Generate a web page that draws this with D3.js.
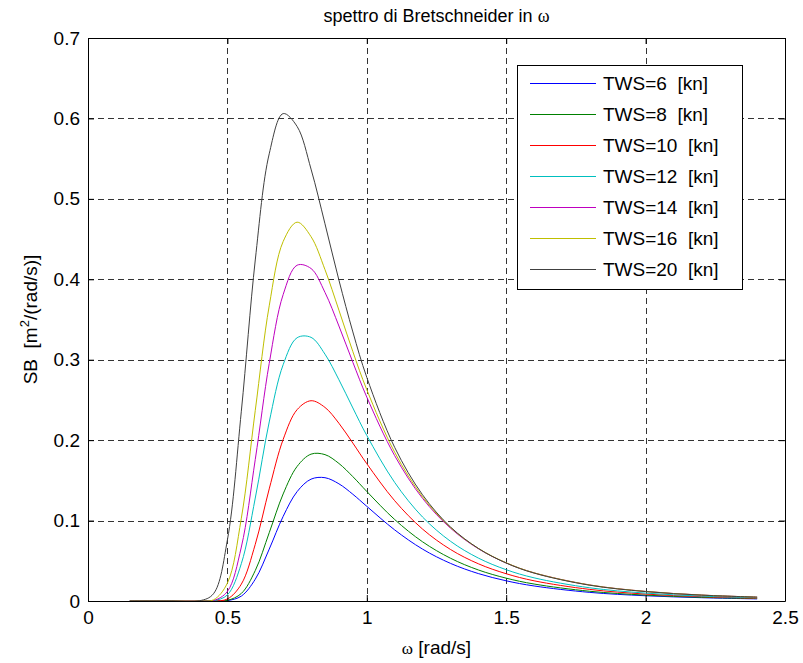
<!DOCTYPE html>
<html>
<head>
<meta charset="utf-8">
<script src="https://cdn.jsdelivr.net/npm/d3@7"></script>
<style>
  body { margin: 0; background: #fff; }
  text { font-family: Arial, "Liberation Sans", Helvetica, sans-serif; fill: #000; }
</style>
</head>
<body>
<script>
// frequency grid, rad/s
const omega = [0.15, 0.3, 0.4, 0.45, 0.5, 0.55, 0.6, 0.65, 0.7, 0.75, 0.8, 0.85, 0.9, 0.95, 1.0, 1.1, 1.2, 1.3, 1.4, 1.5, 1.6, 1.8, 2.0, 2.2, 2.4];

// spectrum values, one array per wind speed
const sb6  = [0, 0, 0, 0, 0.0005, 0.0061, 0.0271, 0.0645, 0.1052, 0.136, 0.1515, 0.1533, 0.1457, 0.1327, 0.1177, 0.0884, 0.0645, 0.0468, 0.0341, 0.0251, 0.0187, 0.0107, 0.0065, 0.0041, 0.0026];
const sb8  = [0, 0, 0, 0, 0.0008, 0.0094, 0.0379, 0.0849, 0.1331, 0.1673, 0.1826, 0.182, 0.171, 0.1546, 0.1362, 0.1013, 0.0736, 0.0532, 0.0386, 0.0284, 0.0211, 0.0121, 0.0073, 0.0046, 0.003];
const sb10 = [0, 0, 0, 0, 0.0025, 0.021, 0.0705, 0.1394, 0.2009, 0.2379, 0.249, 0.2407, 0.221, 0.1963, 0.1707, 0.1247, 0.0894, 0.0641, 0.0463, 0.0339, 0.0251, 0.0144, 0.0086, 0.0054, 0.0035];
const sb12 = [0, 0, 0, 0.0003, 0.0076, 0.0465, 0.128, 0.2226, 0.2938, 0.3273, 0.3278, 0.3069, 0.2751, 0.240, 0.2058, 0.1474, 0.1044, 0.0743, 0.0534, 0.0389, 0.0288, 0.0164, 0.0098, 0.0061, 0.004];
const sb14 = [0, 0, 0, 0.0005, 0.0119, 0.0671, 0.176, 0.2954, 0.381, 0.4175, 0.4134, 0.3837, 0.3419, 0.2968, 0.2535, 0.1807, 0.1276, 0.0906, 0.065, 0.0473, 0.035, 0.0199, 0.0119, 0.0074, 0.0048];
const sb16 = [0, 0, 0, 0.0014, 0.0223, 0.103, 0.237, 0.367, 0.447, 0.471, 0.453, 0.412, 0.3616, 0.310, 0.2627, 0.1849, 0.1296, 0.0915, 0.0654, 0.0475, 0.035, 0.0199, 0.0119, 0.0074, 0.0048];
const sb20 = [0, 0, 0.0002, 0.009, 0.0759, 0.236, 0.424, 0.556, 0.606, 0.590, 0.537, 0.469, 0.399, 0.3345, 0.278, 0.191, 0.132, 0.0921, 0.0654, 0.0472, 0.0347, 0.0196, 0.0117, 0.0073, 0.0048];

const seriesValues = [sb6, sb8, sb10, sb12, sb14, sb16, sb20];
const legendLabels = ["TWS=6\u00a0 [kn]", "TWS=8\u00a0 [kn]", "TWS=10\u00a0 [kn]", "TWS=12\u00a0 [kn]", "TWS=14\u00a0 [kn]", "TWS=16\u00a0 [kn]", "TWS=20\u00a0 [kn]"];
const colors = ["#0000ff", "#008000", "#ff0000", "#00bfbf", "#bf00bf", "#bfbf00", "#404040"]; // matlab order

const xTicks = [0, 0.5, 1, 1.5, 2, 2.5];
const yTicks = [0, 0.1, 0.2, 0.3, 0.4, 0.5, 0.6, 0.7];

const W = 803, H = 663;
const L = 88, R = 785, T = 38, B = 601;
const fs = 19;

const svg = d3.select("body").append("svg").attr("width", W).attr("height", H);

const x = d3.scaleLinear().domain([0, 2.5]).range([L, R]);
const y = d3.scaleLinear().domain([0, 0.7]).range([B, T]);

svg.append("defs").append("clipPath").attr("id", "plot")
  .append("rect").attr("x", L).attr("y", T).attr("width", R - L).attr("height", B - T);

// grid
const grid = svg.append("g").attr("stroke", "#333").attr("stroke-width", 1).attr("stroke-dasharray", "6,4");
xTicks.slice(1, -1).forEach(t => {
  grid.append("line").attr("x1", Math.round(x(t)) + 0.5).attr("x2", Math.round(x(t)) + 0.5).attr("y1", T).attr("y2", B);
});
yTicks.slice(1, -1).forEach(t => {
  grid.append("line").attr("y1", Math.round(y(t)) + 0.5).attr("y2", Math.round(y(t)) + 0.5).attr("x1", L).attr("x2", R);
});

// curves
const line = d3.line().x(d => x(d[0])).y(d => y(d[1])).curve(d3.curveCatmullRom.alpha(0.5));
const curves = svg.append("g").attr("clip-path", "url(#plot)");
seriesValues.forEach((vals, i) => {
  curves.append("path")
    .datum(omega.map((w, k) => [w, vals[k]]))
    .attr("fill", "none").attr("stroke", colors[i]).attr("stroke-width", 1)
    .attr("d", line);
});

// axes: inward ticks on all four sides
const axB = d3.axisBottom(x).tickValues(xTicks).tickFormat(d3.format("")).tickSizeInner(-6).tickSizeOuter(0).tickPadding(10);
const axT = d3.axisTop(x).tickValues(xTicks).tickFormat("").tickSizeInner(-6).tickSizeOuter(0);
const axL = d3.axisLeft(y).tickValues(yTicks).tickFormat(d3.format("")).tickSizeInner(-6).tickSizeOuter(0).tickPadding(8);
const axR = d3.axisRight(y).tickValues(yTicks).tickFormat("").tickSizeInner(-6).tickSizeOuter(0);

function style(g) {
  g.select(".domain").attr("stroke", "#000");
  g.selectAll(".tick line").attr("stroke", "#000");
  g.selectAll(".tick text").attr("font-size", fs).attr("font-family", "Arial, 'Liberation Sans', sans-serif").attr("fill", "#000");
}
svg.append("g").attr("transform", `translate(0,${B})`).call(axB).call(style);
svg.append("g").attr("transform", `translate(0,${T})`).call(axT).call(style);
svg.append("g").attr("transform", `translate(${L},0)`).call(axL).call(style);
svg.append("g").attr("transform", `translate(${R},0)`).call(axR).call(style);

// title
const title = svg.append("text").attr("x", (L + R) / 2).attr("y", 22).attr("text-anchor", "middle").attr("font-size", 18);
title.append("tspan").text("spettro di Bretschneider in ");
title.append("tspan").attr("font-family", "'Liberation Serif', 'Times New Roman', serif").text("ω");

// x label
const xl = svg.append("text").attr("x", (L + R) / 2).attr("y", 654).attr("text-anchor", "middle").attr("font-size", fs);
xl.append("tspan").attr("font-family", "'Liberation Serif', 'Times New Roman', serif").attr("font-size", 17).text("ω");
xl.append("tspan").text(" [rad/s]");

// y label
const yl = svg.append("text").attr("transform", `translate(37,${(T + B) / 2}) rotate(-90)`)
  .attr("text-anchor", "middle").attr("font-size", fs);
yl.append("tspan").text("SB\u00a0 [m");
yl.append("tspan").attr("font-size", 13).attr("dy", -8).text("2");
yl.append("tspan").attr("dy", 8).text("/(rad/s)]");

// legend
const lg = svg.append("g");
lg.append("rect").attr("x", 517.5).attr("y", 65.5).attr("width", 225).attr("height", 224)
  .attr("fill", "#fff").attr("stroke", "#000").attr("stroke-width", 1);
legendLabels.forEach((lab, i) => {
  const yy = 83 + i * 31;
  lg.append("line").attr("x1", 530).attr("x2", 596).attr("y1", yy + 0.5).attr("y2", yy + 0.5)
    .attr("stroke", colors[i]).attr("stroke-width", 1);
  lg.append("text").attr("x", 603).attr("y", yy + 7).attr("font-size", fs).text(lab);
});
</script>
</body>
</html>
